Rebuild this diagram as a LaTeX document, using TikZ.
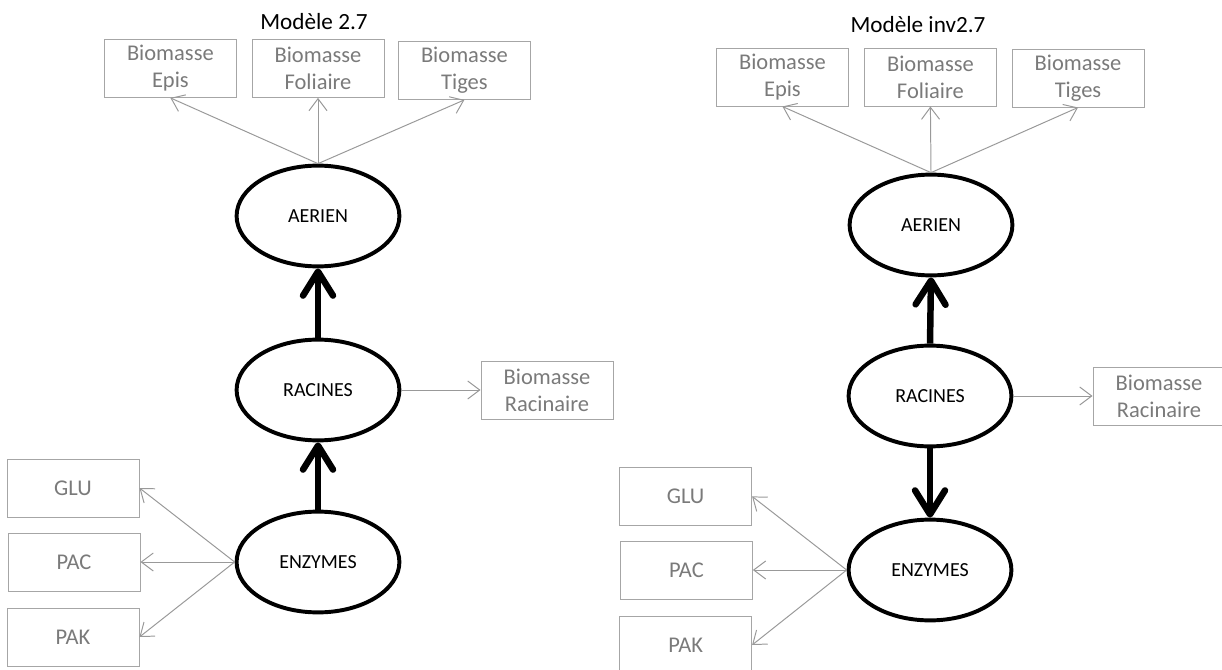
\documentclass[tikz,border=0pt]{standalone}
\usepackage{fontspec}
\setmainfont{Carlito}
\usetikzlibrary{shapes.geometric,arrows.meta}

\begin{document}
\begin{tikzpicture}[
  titre/.style={font=\fontsize{16.5}{20}\selectfont},
  boite/.style={draw=black!35,text=black!52,line width=0.7pt,minimum width=3.3cm,minimum height=1.45cm,align=center,inner sep=0pt,font=\fontsize{16}{19.2}\selectfont},
  lat/.style={ellipse,draw,line width=2.8pt,minimum width=4.07cm,minimum height=2.52cm,inner sep=0pt,font=\fontsize{14.2}{16}\selectfont},
  lien/.style={draw=black!40,line width=0.7pt,-{Straight Barb[length=3mm,width=4.5mm]}},
  fort/.style={line width=4.6pt,-{Straight Barb[round,length=6mm,width=7.5mm]}}]
\useasboundingbox (0,0) rectangle (30.55,-16.75);
% modele 2.7
\node[titre] (titreA) at (7.85,-0.55) {Modèle 2.7};
\node[boite] (episA) at (4.26,-1.71) {Biomasse\\Epis};
\node[boite] (foliA) at (7.95,-1.71) {Biomasse\\Foliaire};
\node[boite] (tigeA) at (11.61,-1.76) {Biomasse\\Tiges};
\node[lat] (aerA) at (7.95,-5.4) {AERIEN};
\node[lat] (racA) at (7.95,-9.75) {RACINES};
\node[lat] (enzA) at (7.95,-14.05) {ENZYMES};
\node[boite] (racbA) at (13.675,-9.75) {Biomasse\\Racinaire};
\node[boite] (gluA) at (1.825,-12.2) {GLU};
\node[boite] (pacA) at (1.85,-14.05) {PAC};
\node[boite] (pakA) at (1.825,-15.925) {PAK};
\draw[lien] (aerA.north) -- (episA.south);
\draw[lien] (aerA.north) -- (foliA.south);
\draw[lien] (aerA.north) -- (tigeA.south);
\draw[lien] (racA.east) -- (racbA.west);
\draw[lien] (enzA.west) -- (gluA.east);
\draw[lien] (enzA.west) -- (pacA.east);
\draw[lien] (enzA.west) -- (pakA.east);
\draw[fort] (racA.north) -- (aerA.south);
\draw[fort] (enzA.north) -- (racA.south);
% modele inv2.7
\node[titre] (titreB) at (22.95,-0.625) {Modèle inv2.7};
\node[boite] (episB) at (19.56,-1.925) {Biomasse\\Epis};
\node[boite] (foliB) at (23.26,-1.925) {Biomasse\\Foliaire};
\node[boite] (tigeB) at (26.95,-1.95) {Biomasse\\Tiges};
\node[lat] (aerB) at (23.275,-5.625) {AERIEN};
\node[lat] (racB) at (23.25,-9.9) {RACINES};
\node[lat] (enzB) at (23.25,-14.25) {ENZYMES};
\node[boite] (racbB) at (28.975,-9.9) {Biomasse\\Racinaire};
\node[boite] (gluB) at (17.14,-12.41) {GLU};
\node[boite] (pacB) at (17.16,-14.25) {PAC};
\node[boite] (pakB) at (17.14,-16.125) {PAK};
\draw[lien] (aerB.north) -- (episB.south);
\draw[lien] (aerB.north) -- (foliB.south);
\draw[lien] (aerB.north) -- (tigeB.south);
\draw[lien] (racB.east) -- (racbB.west);
\draw[lien] (enzB.west) -- (gluB.east);
\draw[lien] (enzB.west) -- (pacB.east);
\draw[lien] (enzB.west) -- (pakB.east);
\draw[fort] (racB.north) -- (aerB.south);
\draw[fort] (racB.south) -- (enzB.north);
\end{tikzpicture}
\end{document}
